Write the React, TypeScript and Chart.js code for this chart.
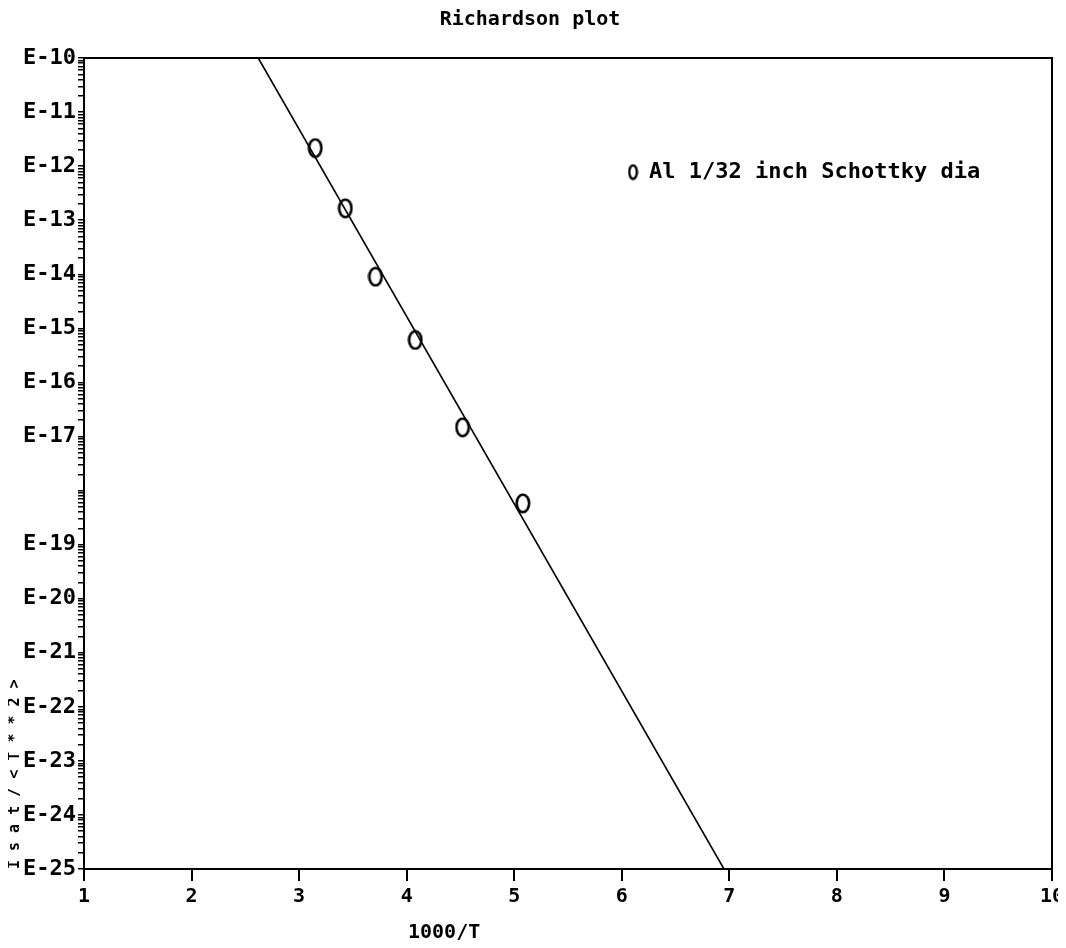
import React, { useEffect, useRef } from "react";
import { Chart, registerables } from "chart.js";

Chart.register(...registerables);

// ---- data ----
const chartTitle = "Richardson plot";
const xAxisTitle = "1000/T";
const yAxisTitle = "I s a t / < T * * 2 >";
const seriesLabel = "Al 1/32 inch Schottky dia";

const measX = [3.15, 3.43, 3.71, 4.08, 4.52, 5.08];
const measY = [2.16e-12, 1.66e-13, 9.0e-15, 6.1e-16, 1.48e-17, 5.8e-19];

const fitX = [2.62, 6.95];
const fitY = [1e-10, 1e-25];

const xMin = 1;
const xMax = 10;
const yMin = 1e-25;
const yMax = 1e-10;
const yDecadeExps = [-10, -11, -12, -13, -14, -15, -16, -17, -18, -19, -20, -21, -22, -23, -24, -25];
const yDecadeLabels = ["E-10", "E-11", "E-12", "E-13", "E-14", "E-15", "E-16", "E-17", "", "E-19", "E-20", "E-21", "E-22", "E-23", "E-24", "E-25"];
const yMinorMantissas = [2, 3, 4, 5, 6, 7, 8, 9];

const FONT = '"DejaVu Sans Mono", monospace';

function makeMarker(w: number, h: number, lw: number) {
  const c = document.createElement("canvas");
  c.width = w;
  c.height = h;
  const ctx = c.getContext("2d")!;
  ctx.strokeStyle = "#000";
  ctx.lineWidth = lw;
  ctx.beginPath();
  ctx.ellipse(w / 2, h / 2, w / 2 - lw / 2 - 0.5, h / 2 - lw / 2 - 0.5, 0, 0, Math.PI * 2);
  ctx.stroke();
  return c;
}

const framePlugin = {
  id: "frame",
  afterLayout(chart: any) {
    // place the legend box inside the plot, upper right, as in the original
    const lg = chart.legend;
    const ca = chart.chartArea;
    if (!lg || !ca) return;
    const w = lg.width;
    const h = lg.height;
    lg.left = ca.left + 0.5517 * (ca.right - ca.left);
    lg.top = ca.top + 0.1147 * (ca.bottom - ca.top);
    lg.right = lg.left + w;
    lg.bottom = lg.top + h;
  },
  afterDraw(chart: any) {
    const { ctx, chartArea } = chart;
    ctx.save();
    ctx.strokeStyle = "#000";
    ctx.lineWidth = 2;
    ctx.beginPath();
    ctx.moveTo(chartArea.left, chartArea.top);
    ctx.lineTo(chartArea.right, chartArea.top);
    ctx.lineTo(chartArea.right, chartArea.bottom);
    ctx.stroke();
    // x axis title (offset left of centre as in the original)
    ctx.fillStyle = "#000";
    ctx.font = `bold 20px ${FONT}`;
    ctx.textAlign = "center";
    ctx.textBaseline = "middle";
    ctx.fillText(xAxisTitle, chartArea.left + 0.372 * (chartArea.right - chartArea.left), chart.height - 7);
    ctx.restore();
  },
};

export default function App() {
  const ref = useRef<HTMLCanvasElement | null>(null);

  useEffect(() => {
    if (!ref.current) return;
    const pointMarker = makeMarker(16, 21, 2.6);
    const legendMarker = makeMarker(11, 17, 2.4);

    const chart = new Chart(ref.current, {
      type: "scatter",
      data: {
        datasets: [
          {
            label: "fit",
            data: fitX.map((x, i) => ({ x, y: fitY[i] })),
            showLine: true,
            borderColor: "#000",
            borderWidth: 1.6,
            pointRadius: 0,
            fill: false,
          },
          {
            label: seriesLabel,
            data: measX.map((x, i) => ({ x, y: measY[i] })),
            showLine: false,
            pointStyle: pointMarker as any,
            pointRadius: 8,
            borderColor: "#000",
            backgroundColor: "rgba(0,0,0,0)",
          },
        ],
      },
      options: {
        animation: false,
        responsive: true,
        maintainAspectRatio: false,
        layout: { autoPadding: false, padding: { top: 0, right: 14, bottom: 0, left: 0 } },
        plugins: {
          title: {
            display: true,
            text: chartTitle,
            color: "#000",
            font: { family: FONT, size: 20, weight: "bold" },
            padding: { top: 0, bottom: 26 },
          },
          legend: {
            display: true,
            position: "chartArea" as any,
            align: "start",
            labels: {
              usePointStyle: true,
              pointStyleWidth: 10,
              padding: 10,
              color: "#000",
              font: { family: FONT, size: 22, weight: "bold" },
              filter: (item: any) => item.datasetIndex === 1,
              generateLabels: (ch: any) => {
                const items = Chart.defaults.plugins.legend.labels.generateLabels(ch);
                return items.map((it: any) => ({ ...it, pointStyle: legendMarker, lineWidth: 0 }));
              },
            },
          },
          tooltip: { enabled: false },
        },
        scales: {
          x: {
            type: "linear",
            min: xMin,
            max: xMax,
            ticks: {
              stepSize: 1,
              color: "#000",
              padding: 4,
              font: { family: FONT, size: 20, weight: "bold" },
            },
            grid: { drawOnChartArea: false, drawTicks: true, tickLength: 12, color: "#000", lineWidth: 2 },
            border: { display: true, color: "#000", width: 2 },
            afterFit: (scale: any) => {
              scale.height = 71;
              scale.paddingRight = 0;
            },
          },
          y: {
            type: "logarithmic",
            min: yMin,
            max: yMax,
            afterBuildTicks: (scale: any) => {
              const ticks: any[] = [];
              yDecadeExps.forEach((e) => {
                ticks.push({ value: Math.pow(10, e), major: true });
                if (e > yDecadeExps[yDecadeExps.length - 1]) {
                  yMinorMantissas.forEach((m) => ticks.push({ value: m * Math.pow(10, e - 1), major: false }));
                }
              });
              ticks.sort((a, b) => a.value - b.value);
              scale.ticks = ticks;
            },
            ticks: {
              autoSkip: false,
              color: "#000",
              padding: 2,
              font: { family: FONT, size: 22, weight: "bold" },
              callback: (value: any) => {
                const lg = Math.log10(Number(value));
                const e = Math.round(lg);
                if (Math.abs(lg - e) < 1e-6) {
                  const idx = yDecadeExps.indexOf(e);
                  return idx >= 0 ? yDecadeLabels[idx] : "";
                }
                return "";
              },
            },
            grid: { drawOnChartArea: false, drawTicks: true, tickLength: 6, color: "#000", lineWidth: 1.5 },
            border: { display: true, color: "#000", width: 2 },
            title: {
              display: true,
              text: yAxisTitle,
              align: "start",
              color: "#000",
              font: { family: FONT, size: 15, weight: "bold", lineHeight: 1.0 },
              padding: { top: 0, bottom: 0 },
            },
            afterFit: (scale: any) => {
              scale.width = 76;
            },
          },
        },
      },
      plugins: [framePlugin],
    } as any);

    return () => chart.destroy();
  }, []);

  return (
    <div style={{ width: 1058, height: 932, position: "relative" }}>
      <canvas ref={ref} />
    </div>
  );
}
